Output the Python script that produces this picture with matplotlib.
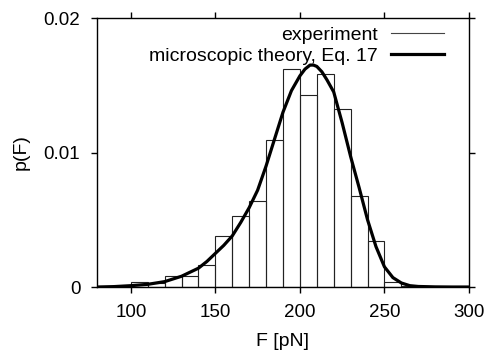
import matplotlib
matplotlib.use("Agg")
import matplotlib.pyplot as plt
from matplotlib.lines import Line2D

plt.rcParams['font.family'] = ['Liberation Sans', 'DejaVu Sans']
plt.rcParams['font.size'] = 14

# histogramme (bords gauches des classes, largeur 10 pN)
bin_left = [100, 110, 120, 130, 140, 150, 160, 170, 180, 190,
            200, 210, 220, 230, 240, 250, 260]
hist_p = [0.0004, 0.0003, 0.0008, 0.0008, 0.0016, 0.0038, 0.0053, 0.0064, 0.0109, 0.0162,
          0.0143, 0.0158, 0.0132, 0.0068, 0.0034, 0.0004, 0.0001]

# courbe theorique
theo_F = [80, 90, 100, 110, 120, 130, 135, 140, 145, 150, 155, 160, 165, 170, 175,
          180, 185, 190, 195, 200, 203, 206, 208, 210, 213, 216, 220, 225, 230, 235, 240,
          245, 250, 255, 260, 265, 270, 280, 290, 300]
theo_p = [0.0, 0.00003, 0.0001, 0.0002, 0.0004, 0.0008, 0.0011, 0.0014, 0.0019, 0.0025,
          0.0031, 0.0038, 0.0048, 0.0059, 0.0072, 0.0090, 0.0110, 0.0130, 0.0146, 0.0157,
          0.0162, 0.0165, 0.0165, 0.0164, 0.0160, 0.0154, 0.0145, 0.0122, 0.0097, 0.0074,
          0.0050, 0.0030, 0.0015, 0.0007, 0.0003, 0.0001, 0.00004, 0.00001, 0.0, 0.0]

fig = plt.figure(figsize=(4.86, 3.51), dpi=100)
ax = fig.add_axes([0.1996, 0.1823, 0.7654, 0.7664])

ax.bar(bin_left, hist_p, width=10, align='edge', fill=False,
       edgecolor='#222222', linewidth=0.8)
ax.plot(theo_F, theo_p, color='black', linewidth=2.3, solid_joinstyle='round')

ax.set_xlim(80, 300)
ax.set_ylim(0, 0.02)
ax.set_xticks([100, 150, 200, 250, 300])
ax.set_yticks([0, 0.01, 0.02])
ax.set_yticklabels(['0', '0.01', '0.02'])
ax.tick_params(direction='out', length=4, width=1, top=True, right=True,
               labelsize=13.5, pad=8)
for s in ax.spines.values():
    s.set_linewidth(1.0)

ax.set_xlabel('F [pN]', labelpad=9)
ax.set_ylabel('p(F)', labelpad=10)

h = [Line2D([], [], color='#444444', linewidth=0.8),
     Line2D([], [], color='black', linewidth=2.3)]
l = ['experiment', 'microscopic theory, Eq. 17']
ax.legend(h, l, loc='upper right', markerfirst=False, frameon=False,
          handlelength=2.75, handletextpad=0.65, labelspacing=0.2,
          borderaxespad=0, borderpad=0, fontsize=14,
          bbox_to_anchor=(0.933, 0.97))

fig.savefig('out.png', dpi=100)
